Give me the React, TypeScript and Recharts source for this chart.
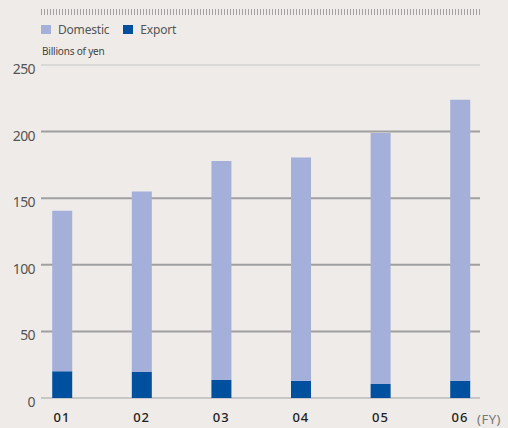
import React from "react";
import {
  BarChart,
  Bar,
  XAxis,
  YAxis,
  CartesianGrid,
} from "recharts";

const years = ["01", "02", "03", "04", "05", "06"];
const domestic = [120.5, 135.5, 164.5, 167.5, 188.5, 211];
const exportSales = [20, 19.5, 13.5, 13, 10.5, 13];
const yTicks = [0, 50, 100, 150, 200, 250];

const data = years.map((y, i) => ({
  idx: i + 1,
  year: y,
  domestic: domestic[i],
  export: exportSales[i],
}));

const BG = "#eeebe8";
const DOMESTIC = "#a4b0da";
const EXPORT = "#0050a0";
const FONT = "'Noto Sans', 'Open Sans', sans-serif";

const legendItems = [
  { name: "Domestic", color: DOMESTIC },
  { name: "Export", color: EXPORT },
];

function LegendBox() {
  return (
    <div
      style={{
        position: "absolute",
        left: 41,
        top: 21,
        display: "flex",
        alignItems: "center",
        fontFamily: FONT,
        fontSize: 12,
        color: "#555",
      }}
    >
      {legendItems.map((it) => (
        <div key={it.name} style={{ display: "flex", alignItems: "center", marginRight: 14 }}>
          <span style={{ width: 10, height: 9, background: it.color, display: "inline-block", marginRight: 7 }} />
          <span style={{ letterSpacing: -0.2 }}>{it.name}</span>
        </div>
      ))}
    </div>
  );
}

export default function App() {
  return (
    <div
      style={{
        position: "absolute",
        left: 0,
        top: 0,
        width: 508,
        height: 428,
        background: BG,
        overflow: "hidden",
      }}
    >
      {/* dotted ruler on top */}
      <div
        style={{
          position: "absolute",
          left: 41,
          top: 9,
          width: 439,
          height: 6,
          background: "repeating-linear-gradient(90deg, #a3a3a3 0 1px, transparent 1px 3px)",
        }}
      />
      <LegendBox />
      <div
        style={{
          position: "absolute",
          left: 42,
          top: 44,
          fontFamily: FONT,
          fontSize: 10,
          color: "#444",
          letterSpacing: -0.2,
        }}
      >
        Billions of yen
      </div>
      <div
        style={{
          position: "absolute",
          left: 477,
          top: 410,
          fontFamily: FONT,
          fontSize: 13,
          color: "#777",
          letterSpacing: 0.5,
        }}
      >
        (FY)
      </div>
      <BarChart
        width={508}
        height={428}
        data={data}
        margin={{ top: 65, right: 28, bottom: 0, left: 0 }}
      >
        <CartesianGrid horizontalValues={[250]} vertical={false} stroke="#c8c8c8" strokeWidth={1} />
        <CartesianGrid horizontalValues={[50, 100, 150, 200]} vertical={false} stroke="#a0a0a0" strokeWidth={2} />
        <CartesianGrid horizontalValues={[0]} vertical={false} stroke="#c9c7c5" strokeWidth={2} />
        <XAxis
          type="number"
          dataKey="idx"
          domain={[0.736, 6.251]}
          ticks={[1, 2, 3, 4, 5, 6]}
          tickFormatter={(v: number) => years[v - 1]}
          allowDataOverflow
          axisLine={false}
          tickLine={false}
          tickSize={0}
          tickMargin={15}
          height={30}
          tick={{ fill: "#222", fontSize: 13, fontFamily: FONT, fontWeight: 500, letterSpacing: 1 }}
        />
        <YAxis
          domain={[0, 250]}
          ticks={yTicks}
          width={41}
          axisLine={false}
          tickLine={false}
          tickSize={0}
          tickMargin={6}
          tick={{ fill: "#555", fontSize: 14, fontFamily: FONT, letterSpacing: -0.6, dy: 4 }}
        />
        <Bar dataKey="export" name="Export" stackId="a" fill={EXPORT} barSize={20} isAnimationActive={false} />
        <Bar dataKey="domestic" name="Domestic" stackId="a" fill={DOMESTIC} barSize={20} isAnimationActive={false} />
      </BarChart>
    </div>
  );
}
